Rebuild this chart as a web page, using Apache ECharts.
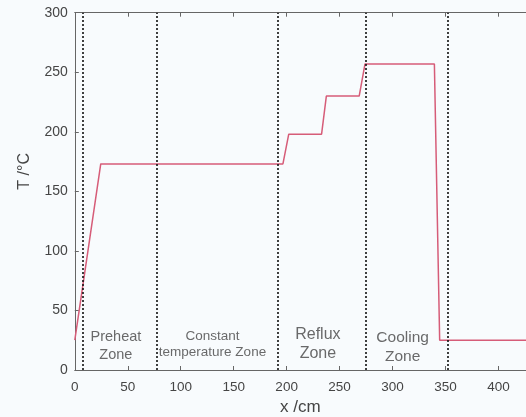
<!DOCTYPE html>
<html>
<head>
<meta charset="utf-8">
<script src="https://cdn.jsdelivr.net/npm/echarts@6/dist/echarts.min.js"></script>
<style>
html,body{margin:0;padding:0;background:#f8fbfd;}
#c{width:526px;height:417px;}
</style>
</head>
<body>
<div id="c"></div>
<script>
// Temperature profile along the oven
var xValues = [0, 24.5, 196.5, 202, 233, 237.5, 268.5, 274, 339.5, 344.5, 426];
var tValues = [25, 173, 173, 198, 198, 230, 230, 257, 257, 25, 25];
// Zone boundaries (x /cm)
var zoneBounds = [7.5, 77.5, 191.5, 275, 352];
// Zone labels: text, x, y (data units)
var zoneNames = ['Preheat\nZone', 'Constant\ntemperature Zone', 'Reflux\nZone', 'Cooling\nZone'];
var zoneX = [38.8, 130, 229.5, 309.5];
var zoneY = [20, 22, 21.4, 19];
var zoneFont = [14.5, 13.5, 16, 15.5];
var zoneLine = [18, 16, 19, 19];
var yTicks = [0, 50, 100, 150, 200, 250, 300];

var font = 'Liberation Sans, Arial, Helvetica, sans-serif';
var chart = echarts.init(document.getElementById('c'));
var axisColor = '#666';
var labelColor = '#454545';

var curve = xValues.map(function (x, i) { return [x, tValues[i]]; });
var labelData = zoneNames.map(function (n, i) {
  return {
    value: [zoneX[i], zoneY[i]],
    label: {
      show: true, formatter: n, position: 'inside',
      fontSize: zoneFont[i], lineHeight: zoneLine[i],
      color: labelColor, fontFamily: font, align: 'center', verticalAlign: 'middle'
    }
  };
});

chart.setOption({
  backgroundColor: '#f8fbfd',
  animation: false,
  grid: {left: 74.8, right: 0, top: 12.7, bottom: 47, containLabel: false, outerBoundsMode: 'none'},
  xAxis: [{
    type: 'value', min: 0, max: 426, interval: 50,
    name: 'x /cm', nameLocation: 'middle', nameGap: 29,
    nameTextStyle: {fontSize: 17, color: labelColor, fontFamily: font},
    axisLine: {show: true, lineStyle: {color: axisColor, width: 1}},
    axisTick: {show: true, inside: true, length: 4, lineStyle: {color: axisColor}},
    axisLabel: {fontSize: 13.5, color: labelColor, fontFamily: font, margin: 10, showMaxLabel: false},
    splitLine: {show: false}
  }, {
    type: 'value', position: 'top', min: 0, max: 426, interval: 50,
    axisLine: {show: true, lineStyle: {color: axisColor, width: 1}},
    axisTick: {show: true, inside: true, length: 4, lineStyle: {color: axisColor}},
    axisLabel: {show: false},
    splitLine: {show: false}
  }],
  yAxis: {
    type: 'value', min: 0, max: 300, interval: 50,
    name: 'T /°C', nameLocation: 'middle', nameGap: 42, nameRotate: 90,
    nameTextStyle: {fontSize: 16, color: labelColor, fontFamily: font, padding: [0, 0, 0, 40]},
    axisLine: {show: true, lineStyle: {color: axisColor, width: 1}},
    axisTick: {show: true, inside: true, length: 4, lineStyle: {color: axisColor}},
    axisLabel: {fontSize: 14, color: labelColor, fontFamily: font, margin: 7},
    splitLine: {show: false}
  },
  series: [{
    type: 'line', data: curve, symbol: 'none', z: 3,
    lineStyle: {color: '#d65c78', width: 1.5},
    markLine: {
      silent: true, symbol: 'none', label: {show: false},
      lineStyle: {color: '#111', type: [2, 2], width: 1.6},
      data: zoneBounds.map(function (b) { return {xAxis: b}; })
    }
  }, {
    type: 'scatter', data: labelData, symbolSize: 0, silent: true, z: 4
  }]
});
</script>
</body>
</html>
